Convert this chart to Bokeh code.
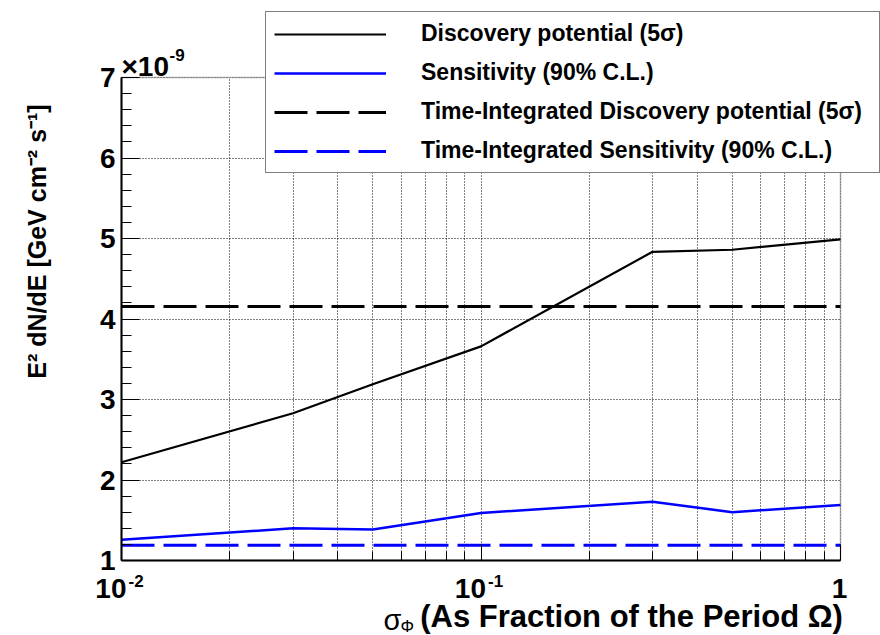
import math
from bokeh.plotting import figure
from bokeh.models import (Label, Legend, LegendItem, FixedTicker, SingleIntervalTicker,
                          CustomJSTickFormatter, Range1d, BoxAnnotation, Grid)
from bokeh.embed import file_html
from bokeh.resources import INLINE

# ---------------- data ----------------
sigma_phi = [0.01, 0.03, 0.05, 0.1, 0.3, 0.5, 1.0]
discovery = [2.22, 2.83, 3.19, 3.66, 4.835, 4.86, 4.99]        # x 1e-9
sensitivity = [1.257, 1.40, 1.385, 1.59, 1.73, 1.60, 1.69]     # x 1e-9
ti_x = [0.01, 1.0]
ti_discovery = [4.155, 4.155]
ti_sensitivity = [1.188, 1.188]
x_lo, x_hi = 0.01, 1.0
y_lo, y_hi = 1.0, 7.0
y_multiplier_base = "\u00d710"
y_multiplier_exp = "-9"
x_major = [0.01, 0.1, 1.0]
x_minor = [0.02, 0.03, 0.04, 0.05, 0.06, 0.07, 0.08, 0.09,
           0.2, 0.3, 0.4, 0.5, 0.6, 0.7, 0.8, 0.9]
x_tick_base = ["10", "10", "1"]
x_tick_exp = ["-2", "-1", ""]
legend_labels = ["Discovery potential (5\u03c3)",
                 "Sensitivity (90% C.L.)",
                 "Time-Integrated Discovery potential (5\u03c3)",
                 "Time-Integrated Sensitivity (90% C.L.)"]
y_title = "E\u00b2 dN/dE [GeV cm\u207b\u00b2 s\u207b\u00b9]"
x_title_sym = "\u03c3"
x_title_sub = "\u03a6"
x_title_main = "(As Fraction of the Period  \u03a9)"

FONT = "Liberation Sans"

# ---------------- layout (pixels on the canvas) ----------------
W, H = 880, 635
PL, PR, PT, PB = 121, 840, 77, 560          # where the ROOT-style frame sits
dec_px = (PR - PL) / math.log10(x_hi / x_lo)
unit_px = (PB - PT) / (y_hi - y_lo)
x_start = x_lo / 10 ** (PL / dec_px)
x_end = x_hi * 10 ** ((W - PR) / dec_px)
y_start = y_lo - (H - PB) / unit_px
y_end = y_hi + PT / unit_px

p = figure(width=W, height=H, x_axis_type="log",
           x_range=Range1d(x_start, x_end), y_range=Range1d(y_start, y_end),
           output_backend="svg", toolbar_location=None,
           min_border_left=0, min_border_right=0,
           min_border_top=0, min_border_bottom=0)
p.background_fill_color = "white"
p.border_fill_color = "white"
p.outline_line_color = None

# axes fixed at the frame edges
p.xaxis.fixed_location = y_lo
p.yaxis.fixed_location = x_lo
p.xaxis.bounds = (x_lo, x_hi)
p.yaxis.bounds = (y_lo, y_hi)

xt = FixedTicker(ticks=x_major, minor_ticks=x_minor)
p.xaxis.ticker = xt
p.xgrid.ticker = xt
p.xaxis.formatter = CustomJSTickFormatter(code="return '';")
yt = SingleIntervalTicker(interval=1, num_minor_ticks=5)
p.yaxis.ticker = yt
p.ygrid.ticker = yt

for ax in (p.xaxis[0], p.yaxis[0]):
    ax.axis_line_color = "black"
    ax.axis_line_width = 2
    ax.major_tick_line_color = "black"
    ax.minor_tick_line_color = "black"
    ax.major_tick_line_width = 1
    ax.minor_tick_line_width = 1
    ax.major_tick_out = 0
    ax.minor_tick_out = 0
p.xaxis.major_tick_in = 16
p.xaxis.minor_tick_in = 9
p.yaxis.major_tick_in = 18
p.yaxis.minor_tick_in = 10
p.yaxis.major_label_text_font = FONT
p.yaxis.major_label_text_font_style = "bold"
p.yaxis.major_label_text_font_size = "28px"
p.yaxis.major_label_text_color = "black"
p.yaxis.major_label_standoff = 6

# grids, limited to the frame
p.xgrid.bounds = (x_lo, x_hi)
p.ygrid.bounds = (y_lo, y_hi)
if "cross_bounds" in Grid.properties():
    p.xgrid.cross_bounds = (y_lo, y_hi)
    p.ygrid.cross_bounds = (x_lo, x_hi)
p.xgrid.grid_line_color = "black"
p.xgrid.grid_line_dash = "1 2"
p.xgrid.grid_line_width = 1
p.xgrid.minor_grid_line_color = "black"
p.xgrid.minor_grid_line_dash = "1 2"
p.xgrid.minor_grid_line_width = 1
p.ygrid.grid_line_color = "black"
p.ygrid.grid_line_dash = "1 2"
p.ygrid.grid_line_width = 1

# white masks outside the frame (under the glyphs and axes)
for kw in (dict(top=y_lo), dict(bottom=y_hi), dict(right=x_lo), dict(left=x_hi)):
    p.add_layout(BoxAnnotation(fill_color="white", fill_alpha=1.0, line_alpha=0,
                               level="underlay", **kw))

# lines
r1 = p.line(sigma_phi, discovery, line_color="black", line_width=2.2)
r2 = p.line(sigma_phi, sensitivity, line_color="#0000ff", line_width=2.5)
r3 = p.line(ti_x, ti_discovery, line_color="black", line_width=3, line_dash="33 9")
r4 = p.line(ti_x, ti_sensitivity, line_color="#0000ff", line_width=3, line_dash="33 9")

# frame
p.add_layout(BoxAnnotation(left=x_lo, right=x_hi, bottom=y_lo, top=y_hi,
                           fill_alpha=0, line_color="black", line_width=1.5))

legend = Legend(items=[LegendItem(label=legend_labels[0], renderers=[r1]),
                       LegendItem(label=legend_labels[1], renderers=[r2]),
                       LegendItem(label=legend_labels[2], renderers=[r3]),
                       LegendItem(label=legend_labels[3], renderers=[r4])],
                location=(265, H - 173))
legend.border_line_color = "black"
legend.border_line_width = 1
legend.background_fill_color = "white"
legend.background_fill_alpha = 1.0
legend.padding = 8
legend.margin = 0
legend.spacing = 12
legend.glyph_width = 112
legend.glyph_height = 24
legend.label_height = 24
legend.label_standoff = 35
legend.label_width = 450
legend.label_text_font = FONT
legend.label_text_font_style = "bold"
legend.label_text_font_size = "23px"
legend.label_text_color = "black"
p.add_layout(legend)


def text(x, y, dx, dy, s, size, align="left", bold=True, angle=0.0):
    p.add_layout(Label(x=x, y=y, x_offset=dx, y_offset=dy, text=s, angle=angle,
                       text_align=align, text_baseline="middle",
                       text_font=FONT, text_font_style="bold" if bold else "normal",
                       text_font_size=size, text_color="black"))


# x tick labels (10 with superscript exponent)
for xv, base, ex in zip(x_major, x_tick_base, x_tick_exp):
    if ex:
        text(xv, y_lo, 5, -28, base, "28px", align="right")
        text(xv, y_lo, 7, -20, ex, "17px")
    else:
        text(xv, y_lo, -1, -28, base, "28px", align="center")

# y multiplier
text(x_lo, y_hi, 0, 11, y_multiplier_base, "28px")
text(x_lo, y_hi, 48, 23, y_multiplier_exp, "17px")

# y title (centred at about 241 px from the top)
y_title_at = y_lo + (PB - 241) / unit_px
text(x_lo, y_title_at, -85, 0, y_title, "25px", align="center", angle=math.pi / 2)

# x title
text(x_lo, y_lo, 262, -59, x_title_sym, "29px", bold=False)
text(x_lo, y_lo, 279, -66, x_title_sub, "17px", bold=False)
text(x_hi, y_lo, 11, -56, x_title_main, "31px", align="right")

open("out.html", "w").write(file_html(p, INLINE))
